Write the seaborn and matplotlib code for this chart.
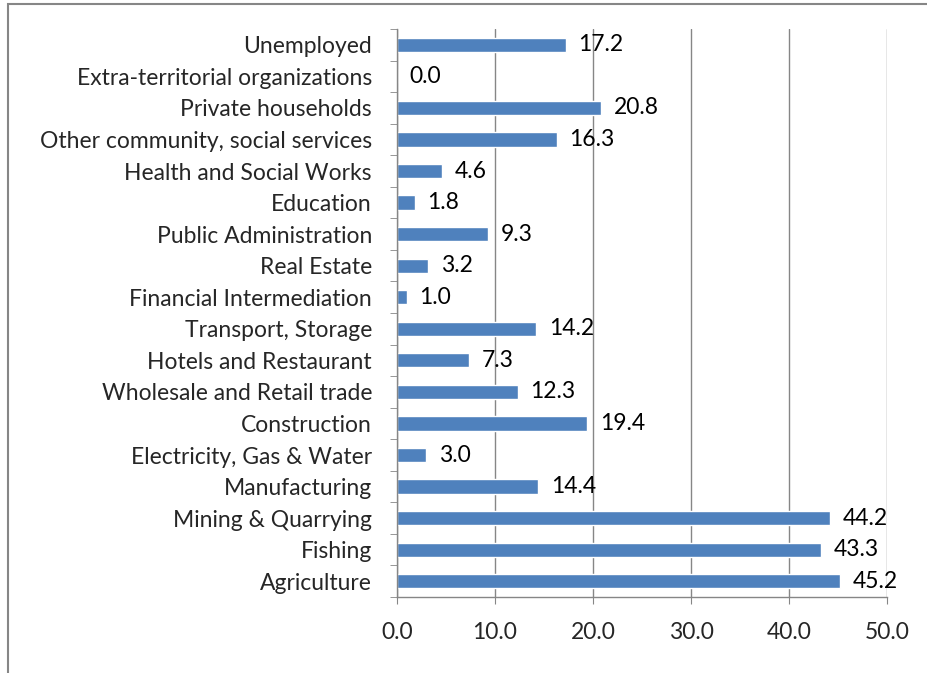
import numpy as np
import pandas as pd
import matplotlib.pyplot as plt
import seaborn as sns
from matplotlib.patches import Rectangle

# Данные (сверху вниз, как на графике)
sectors = ['Unemployed', 'Extra-territorial organizations', 'Private households',
           'Other community, social services', 'Health and Social Works', 'Education',
           'Public Administration', 'Real Estate', 'Financial Intermediation',
           'Transport, Storage', 'Hotels and Restaurant', 'Wholesale and Retail trade',
           'Construction', 'Electricity, Gas & Water', 'Manufacturing',
           'Mining & Quarrying', 'Fishing', 'Agriculture']
values = [17.2, 0.0, 20.8, 16.3, 4.6, 1.8, 9.3, 3.2, 1.0,
          14.2, 7.3, 12.3, 19.4, 3.0, 14.4, 44.2, 43.3, 45.2]
x_ticks = [0, 10, 20, 30, 40, 50]

df = pd.DataFrame({'sector': sectors, 'value': values})

sns.set_style('white')
plt.rcParams['font.family'] = ['Lato', 'DejaVu Sans']
fs = 16.5

fig = plt.figure(figsize=(9.27, 6.73), dpi=100)
ax = fig.add_axes([397 / 927, 76 / 673, 490 / 927, 568 / 673])

sns.barplot(data=df, x='value', y='sector', orient='h', color='#4F81BD',
            saturation=1, width=0.45, ax=ax)

# Подписи значений
for i, v in enumerate(values):
    ax.text(v + 1.3, i, f'{v:.1f}', va='center', ha='left', fontsize=fs, color='black')

ax.set_xlim(0, 50)
ax.set_ylim(len(sectors) - 0.5, -0.5)
ax.set_xticks(x_ticks)
ax.set_xticklabels([f'{t:.1f}' for t in x_ticks], fontsize=fs)
ax.tick_params(axis='x', length=5, color='#868686', pad=13, direction='out', bottom=True)
ax.tick_params(axis='y', length=0, labelsize=fs, pad=18)
ax.set_yticks(np.arange(len(sectors) + 1) - 0.5, minor=True)
ax.tick_params(axis='y', which='minor', length=5, color='#868686', left=True)
ax.set_xlabel('')
ax.set_ylabel('')
ax.grid(axis='x', color='#868686', linewidth=1)
ax.set_axisbelow(True)
for side in ['top', 'right']:
    ax.spines[side].set_visible(False)
for side in ['left', 'bottom']:
    ax.spines[side].set_color('#868686')
    ax.spines[side].set_linewidth(1)

# Рамка вокруг графика
fig.patches.append(Rectangle((8 / 927, -0.1), 1.2, 1.1 - 4 / 673, transform=fig.transFigure,
                             fill=False, edgecolor='#868686', linewidth=1.5))

fig.savefig('out.png', dpi=100)
